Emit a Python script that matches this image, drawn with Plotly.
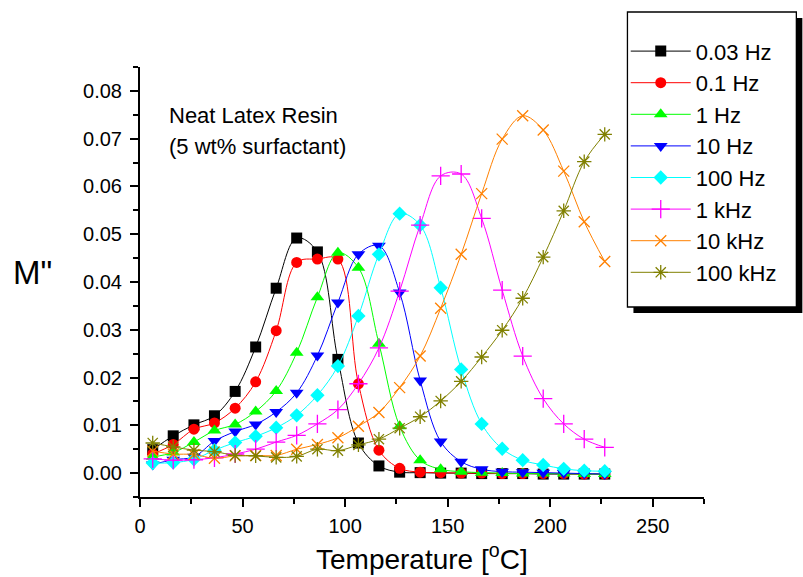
import plotly.graph_objects as go

# Temperature sweep [°C]
temperature = [6.2, 16.2, 26.3, 36.3, 46.4, 56.4, 66.4, 76.4, 86.5, 96.5, 106.5, 116.5,
               126.6, 136.6, 146.6, 156.6, 166.6, 176.6, 186.6, 196.6, 206.6, 216.6, 226.6]

# Loss modulus M'' at each measurement frequency
m_003hz = [0.0049, 0.0078, 0.0101, 0.0120, 0.0171, 0.0264, 0.0387, 0.0492, 0.0463, 0.0238, 0.0063, 0.0015,
           0.0002, 0.0001, 0.0000, 0.0000, -0.0001, -0.0001, -0.0001, -0.0002, -0.0002, -0.0002, -0.0002]
m_01hz = [0.0040, 0.0060, 0.0092, 0.0105, 0.0136, 0.0191, 0.0298, 0.0441, 0.0448, 0.0448, 0.0187, 0.0048,
          0.0010, 0.0002, 0.0001, 0.0000, 0.0000, -0.0001, -0.0001, -0.0001, -0.0001, -0.0002, -0.0002]
m_1hz = [0.0034, 0.0043, 0.0065, 0.0089, 0.0102, 0.0129, 0.0172, 0.0252, 0.0368, 0.0461, 0.0430, 0.0271,
         0.0098, 0.0027, 0.0008, 0.0003, 0.0001, 0.0000, -0.0001, -0.0001, -0.0001, -0.0002, -0.0002]
m_10hz = [0.0018, 0.0028, 0.0034, 0.0067, 0.0087, 0.0102, 0.0128, 0.0168, 0.0246, 0.0357, 0.0458, 0.0476,
          0.0378, 0.0194, 0.0066, 0.0024, 0.0008, 0.0003, 0.0002, 0.0001, 0.0000, -0.0001, -0.0002]
m_100hz = [0.0021, 0.0022, 0.0029, 0.0048, 0.0064, 0.0077, 0.0095, 0.0121, 0.0163, 0.0224, 0.0329, 0.0458,
           0.0543, 0.0519, 0.0388, 0.0217, 0.0103, 0.0051, 0.0027, 0.0017, 0.0009, 0.0005, 0.0004]
m_1khz = [0.0030, 0.0027, 0.0028, 0.0032, 0.0040, 0.0050, 0.0065, 0.0079, 0.0103, 0.0133, 0.0187, 0.0262,
          0.0381, 0.0519, 0.0622, 0.0626, 0.0533, 0.0383, 0.0245, 0.0156, 0.0103, 0.0071, 0.0054]
m_10khz = [0.0046, 0.0040, 0.0039, 0.0031, 0.0036, 0.0037, 0.0037, 0.0050, 0.0060, 0.0074, 0.0098, 0.0127,
           0.0179, 0.0245, 0.0345, 0.0458, 0.0585, 0.0699, 0.0748, 0.0718, 0.0632, 0.0526, 0.0443]
m_100khz = [0.0063, 0.0055, 0.0048, 0.0045, 0.0037, 0.0036, 0.0033, 0.0035, 0.0050, 0.0047, 0.0059, 0.0071,
            0.0094, 0.0118, 0.0151, 0.0192, 0.0243, 0.0299, 0.0366, 0.0452, 0.0549, 0.0652, 0.0709]

series_names = ["0.03 Hz", "0.1 Hz", "1 Hz", "10 Hz", "100 Hz", "1 kHz", "10 kHz", "100 kHz"]
series_values = [m_003hz, m_01hz, m_1hz, m_10hz, m_100hz, m_1khz, m_10khz, m_100khz]
series_colors = ["#000000", "#FF0000", "#00FF00", "#0000FF", "#00FFFF", "#FF00FF", "#FF8000", "#808000"]
series_symbols = ["square", "circle", "triangle-up", "triangle-down", "diamond",
                  "cross-thin", "x-thin", "asterisk"]
series_sizes = [11, 11, 12, 12, 11, 13, 11, 12]

FONT = "Arial, Liberation Sans, sans-serif"

fig = go.Figure()
for i, (name, vals, col, sym, sz) in enumerate(
        zip(series_names, series_values, series_colors, series_symbols, series_sizes)):
    open_sym = sym in ("cross-thin", "x-thin", "asterisk")
    fig.add_trace(go.Scatter(
        x=temperature, y=vals, name=name, mode="lines+markers",
        legendgroup=f"g{i}",
        line=dict(color=col, width=1, shape="spline", smoothing=1.0),
        marker=dict(symbol=sym, size=sz, color=col,
                    line=dict(color=col, width=1.3 if open_sym else 0)),
    ))

# Plot area geometry in pixels (for placing the decorations)
W, H = 803, 577
L, R, T, B = 140, 98.7, 66.7, 80.3
pw, ph = W - L - R, H - T - B


def px_x(p):
    return (p - L) / pw


def px_y(p):
    return (H - B - p) / ph


# legend frame with drop shadow
fig.add_shape(type="rect", xref="paper", yref="paper",
              x0=px_x(633.7), x1=px_x(802.7), y0=px_y(312.7), y1=px_y(17.7),
              fillcolor="black", line=dict(width=0), layer="above")
fig.add_shape(type="rect", xref="paper", yref="paper",
              x0=px_x(627.7), x1=px_x(796.7), y0=px_y(306.7), y1=px_y(11.7),
              fillcolor="white", line=dict(color="black", width=1.3), layer="above")

fig.add_annotation(text="Neat Latex Resin", xref="paper", yref="paper",
                   x=px_x(167), y=px_y(115.5), xanchor="left", yanchor="middle",
                   showarrow=False, font=dict(family=FONT, size=22, color="black"))
fig.add_annotation(text="(5 wt% surfactant)", xref="paper", yref="paper",
                   x=px_x(167), y=px_y(146), xanchor="left", yanchor="middle",
                   showarrow=False, font=dict(family=FONT, size=22, color="black"))
fig.add_annotation(text="M\"", xref="paper", yref="paper",
                   x=px_x(32), y=px_y(272), xanchor="center", yanchor="middle",
                   showarrow=False, font=dict(family=FONT, size=33, color="black"))
fig.add_annotation(text="Temperature [<sup>o</sup>C]", xref="paper", yref="paper",
                   x=0.5, y=px_y(557), xanchor="center", yanchor="middle",
                   showarrow=False, font=dict(family=FONT, size=28, color="black"))

axis_common = dict(showline=True, linecolor="black", linewidth=2, mirror=False,
                   ticks="outside", ticklen=8, tickwidth=1.5, tickcolor="black",
                   showgrid=False, zeroline=False,
                   tickfont=dict(family=FONT, size=20, color="black"))

fig.update_xaxes(range=[0, 275], tick0=0, dtick=50,
                 minor=dict(ticks="outside", ticklen=5, tickwidth=1.5, tickcolor="black", dtick=25, tick0=0),
                 ticklabelstandoff=2, **axis_common)
fig.update_yaxes(range=[-0.005, 0.085], tick0=0, dtick=0.01, tickformat=".2f",
                 minor=dict(ticks="outside", ticklen=5, tickwidth=1.5, tickcolor="black", dtick=0.005, tick0=0),
                 ticklabelstandoff=4, **axis_common)

fig.update_layout(
    width=W, height=H,
    margin=dict(l=L, r=R, t=T, b=B, pad=0),
    paper_bgcolor="white", plot_bgcolor="white",
    showlegend=True,
    legend=dict(x=px_x(626), y=px_y(30), xanchor="left", yanchor="top",
                bgcolor="rgba(0,0,0,0)", borderwidth=0,
                font=dict(family=FONT, size=22, color="black"),
                itemwidth=60, tracegroupgap=0),
)

fig.write_html("out.html")
